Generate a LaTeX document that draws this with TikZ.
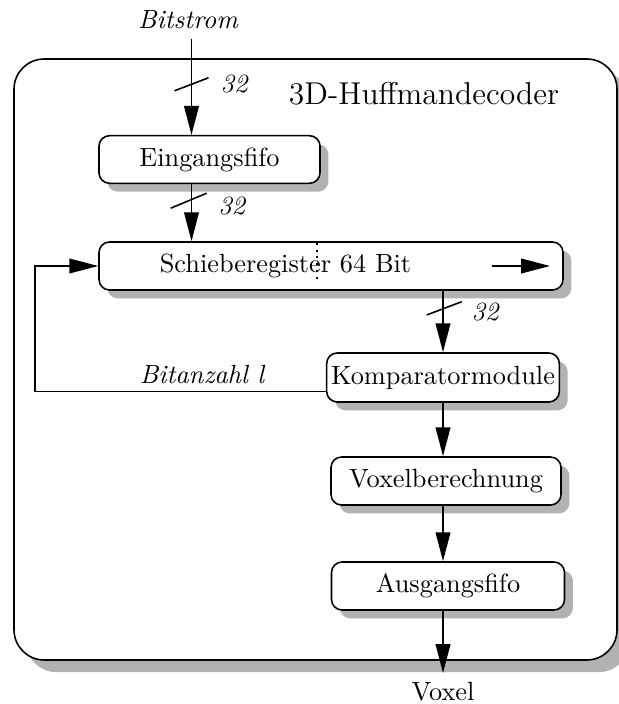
\documentclass[tikz,border=0pt]{standalone}
\usetikzlibrary{arrows.meta,shadows}
\begin{document}
\begin{tikzpicture}[x=0.38pt,y=-0.38pt,
  line width=0.6pt,
  >={Triangle[length=11pt,width=5.6pt]},
  shade box/.style={drop shadow={shadow xshift=#1, shadow yshift=-#1, fill=black!30, opacity=1}},
  unit/.style={draw, fill=white, rounded corners=4pt, inner sep=0pt, shade box=3.2pt},
  boxsize/.style 2 args={minimum width=#1*0.38pt, minimum height=#2*0.38pt},
  bus/.style={font=\itshape},
  slash/.style={line width=0.6pt}]
\useasboundingbox (0,0) rectangle (618,704);

% enclosing decoder block
\node[draw, fill=white, rounded corners=11.5pt, inner sep=0pt, shade box=4.6pt,
      boxsize={603}{601}] (dec) at (315.5,359.5) {};
\node[font=\large] (title) at (424,94) {3D-Huffmandecoder};

% processing units
\node[unit, boxsize={221}{47.6}] (ein) at (209.5,159.5) {Eingangsfifo};
\node[unit, boxsize={464}{48}] (sr) at (331,266) {};
\node (srtext) at (285.5,266) {Schieberegister 64 Bit};
\node[unit, boxsize={232.6}{49}] (kom) at (443,377.5) {Komparatormodule};
\node[unit, boxsize={230}{48}] (vox) at (446,481) {Voxelberechnung};
\node[unit, boxsize={233}{48}] (aus) at (448,586) {Ausgangsfifo};

% external signals
\node[bus] (bit) at (188,20) {Bitstrom};
\node (out) at (443,692) {Voxel};

% helper coordinates
\coordinate (inx) at (191.5,0);
\coordinate (fbx) at (35,0);
\coordinate (fbstart) at (326.7,391.5);
\coordinate (shA) at (491.5,266);
\coordinate (shB) at (550,266);

% data path
\draw[->] (inx |- bit.south) -- (inx |- ein.north);
\draw[->] (inx |- ein.south) -- (inx |- sr.north);
\draw[->] (kom.north |- sr.south) -- (kom.north);
\draw[->] (kom.south) -- (kom.south |- vox.north);
\draw[->] (kom.south |- vox.south) -- (kom.south |- aus.north);
\draw[->] (kom.south |- aus.south) -- (kom.south |- out.north);

% shift direction and register split
\draw[->] (shA) -- (shB);
\draw[line width=0.75pt, dash pattern=on 0.75pt off 1.8pt] (316.7,243) -- (316.7,283);

% feedback of consumed bit count
\draw[->] (fbstart) -- (fbstart -| fbx) |- (sr.west);
\node[bus] (cnt) at (202,375) {Bitanzahl l};

% bus width markers
\draw[slash] (191.5,84.3) ++(-17,6.5) -- ++(34,-13);
\node[bus] (w1) at (234,84) {32};
\draw[slash] (190.7,199.7) ++(-20,8.5) -- ++(36,-15);
\node[bus] (w2) at (231.7,205.8) {32};
\draw[slash] (442.7,308.9) ++(-16,6.1) -- ++(35,-13.3);
\node[bus] (w3) at (485,311.7) {32};
\end{tikzpicture}
\end{document}
